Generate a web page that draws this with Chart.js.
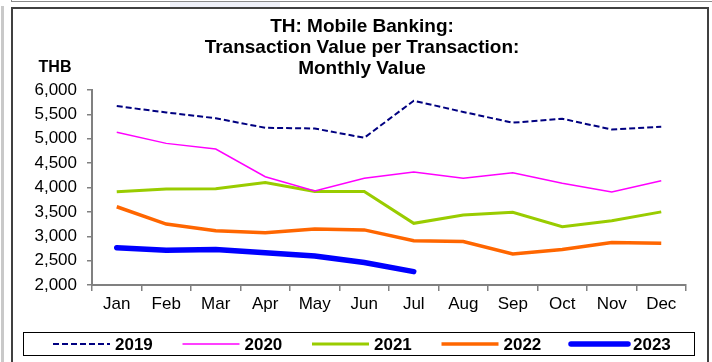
<!DOCTYPE html>
<html>
<head>
<meta charset="utf-8">
<title>TH: Mobile Banking</title>
<script src="https://cdn.jsdelivr.net/npm/chart.js@4.4.0/dist/chart.umd.min.js"></script>
<style>
  body { margin: 0; background: #fff; }
  #wrap { position: relative; width: 712px; height: 362px; overflow: hidden; }
  .edge-left { position: absolute; left: 1px; top: 6px; width: 3px; height: 360px; background: #c9c9c9; }
  .edge-top { position: absolute; left: 11px; top: 1px; width: 701px; height: 1px; background: #8a8a8a; }
  .edge-tick { position: absolute; left: 11px; top: 0; width: 1px; height: 2px; background: #8a8a8a; }
  .tab { position: absolute; left: 170px; top: 2px; width: 110px; height: 5px; background: #eef0f8; }
  .frame { position: absolute; left: 11px; top: 7px; width: 694px; height: 400px; border: 2px solid #404040; }
  canvas { position: absolute; left: 0; top: 0; }
</style>
</head>
<body>
<div id="wrap">
  <div class="edge-left"></div>
  <div class="edge-top"></div>
  <div class="edge-tick"></div>
  <div class="tab"></div>
  <div class="frame"></div>
  <canvas id="chart" width="712" height="362"></canvas>
</div>
<script>
const FONT = '"Liberation Sans", Arial, sans-serif';

const titleLines = ['TH: Mobile Banking:', 'Transaction Value per Transaction:', 'Monthly Value'];
const unitLabel = 'THB';
const months = ['Jan', 'Feb', 'Mar', 'Apr', 'May', 'Jun', 'Jul', 'Aug', 'Sep', 'Oct', 'Nov', 'Dec'];
const yMin = 2000, yMax = 6000, yStep = 500;

const seriesNames = ['2019', '2020', '2021', '2022', '2023'];
const v2019 = [5670, 5540, 5420, 5225, 5210, 5020, 5780, 5550, 5330, 5410, 5190, 5245];
const v2020 = [5135, 4905, 4790, 4220, 3930, 4190, 4320, 4190, 4300, 4085, 3910, 4140];
const v2021 = [3915, 3970, 3975, 4100, 3920, 3920, 3265, 3435, 3490, 3195, 3320, 3500];
const v2022 = [3605, 3250, 3115, 3070, 3150, 3130, 2910, 2890, 2635, 2730, 2870, 2855];
const v2023 = [2765, 2715, 2730, 2660, 2595, 2460, 2275];

// title, unit label and the boxed legend along the bottom
const chartText = {
  id: 'chartText',
  afterDraw(chart) {
    const ctx = chart.ctx;
    ctx.save();
    ctx.fillStyle = '#000';
    ctx.textAlign = 'center';
    ctx.textBaseline = 'middle';
    ctx.font = 'bold 19px ' + FONT;
    titleLines.forEach((t, i) => ctx.fillText(t, 362, 27 + i * 21));
    ctx.font = 'bold 16px ' + FONT;
    ctx.fillText(unitLabel, 55, 68);

    ctx.lineWidth = 1;
    ctx.strokeStyle = '#000';
    ctx.strokeRect(23.5, 332.5, 671, 23);

    chart.data.datasets.forEach((ds, i) => {
      const x = 53 + i * 129.5, y = 344;
      ctx.beginPath();
      ctx.setLineDash(ds.borderDash || []);
      ctx.lineWidth = ds.borderWidth;
      ctx.strokeStyle = ds.borderColor;
      ctx.lineCap = ds.borderCapStyle || 'butt';
      ctx.moveTo(x, y);
      ctx.lineTo(x + 57, y);
      ctx.stroke();
      ctx.setLineDash([]);
      ctx.textAlign = 'left';
      ctx.font = 'bold 17px ' + FONT;
      ctx.fillText(ds.label, x + 62, y + 1);
    });
    ctx.restore();
  }
};

new Chart(document.getElementById('chart'), {
  type: 'line',
  data: {
    labels: months,
    datasets: [
      { label: seriesNames[0], data: v2019, borderColor: '#000080', borderWidth: 2, borderDash: [6, 3] },
      { label: seriesNames[1], data: v2020, borderColor: '#ff00ff', borderWidth: 1.5 },
      { label: seriesNames[2], data: v2021, borderColor: '#99cc00', borderWidth: 3 },
      { label: seriesNames[3], data: v2022, borderColor: '#ff6600', borderWidth: 3.5 },
      { label: seriesNames[4], data: v2023, borderColor: '#0000ff', borderWidth: 5.5, borderCapStyle: 'round' }
    ]
  },
  options: {
    responsive: false,
    animation: false,
    layout: { padding: { top: 90, right: 26, bottom: 0, left: 0 } },
    elements: { point: { radius: 0 }, line: { tension: 0, fill: false } },
    plugins: { legend: { display: false }, title: { display: false }, tooltip: { enabled: false } },
    scales: {
      x: {
        offset: true,
        grid: { offset: true, drawOnChartArea: false, tickLength: 6, color: '#808080', lineWidth: 1.5 },
        border: { color: '#808080', width: 2 },
        ticks: { padding: 3, color: '#000', font: { size: 17, family: FONT } },
        afterFit(scale) { scale.height = 77; }
      },
      y: {
        min: yMin,
        max: yMax,
        ticks: { stepSize: yStep, padding: 10, color: '#000', font: { size: 17, family: FONT } },
        grid: { drawOnChartArea: false, tickLength: 5, color: '#808080', lineWidth: 1.5 },
        border: { color: '#808080', width: 2 },
        afterFit(scale) { scale.width = 92; }
      }
    }
  },
  plugins: [chartText]
});
</script>
</body>
</html>
